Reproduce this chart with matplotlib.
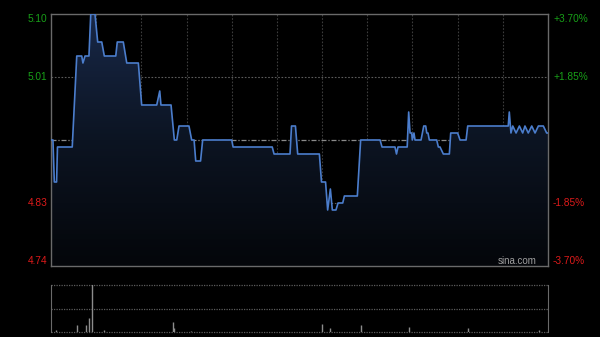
# intraday price chart (HK session, 330 trading minutes) with volume panel
import matplotlib
matplotlib.use('Agg')
import matplotlib.pyplot as plt
import matplotlib.transforms as mtransforms
import numpy as np
from matplotlib.colors import LinearSegmentedColormap
from matplotlib.patches import Polygon

plt.rcParams['font.family'] = ['Liberation Sans', 'DejaVu Sans']

prev_close = 4.92
price_ticks = [4.74, 4.83, 4.92, 5.01, 5.10]
price_labels = ['4.74', '4.83', '', '5.01', '5.10']
pct_labels = ['-3.70%', '-1.85%', '', '+1.85%', '+3.70%']

# turning points of the price line: minute of session, price
minutes = [0, 1.3, 2.2, 3.7, 4.3, 14.1, 17.1, 20.4, 21.2, 22.6, 25.2, 26.4, 29.2,
           31.0, 33.7, 35.4, 43.0, 44.0, 48.0, 50.3, 58.0, 60.2, 70.2, 72.2, 73.0,
           79.7, 81.9, 83.5, 85.0, 91.6, 93.4, 95.0, 96.1, 99.3, 100.7, 120.0,
           120.9, 146.9, 148.1, 158.7, 159.7, 162.3, 163.8, 178.2, 179.6, 182.3,
           183.7, 185.5, 186.8, 189.2, 190.6, 193.7, 194.8, 203.4, 205.6, 218.5,
           219.8, 228.4, 229.4, 230.4, 236.5, 237.5, 238.4, 239.5, 239.9, 241.0,
           241.7, 245.7, 247.5, 248.8, 249.5, 250.3, 251.2, 256.1, 257.2, 258.3,
           260.5, 264.5, 265.4, 270.0, 271.6, 275.6, 276.7, 303.6, 304.3, 305.4,
           306.6, 308.8, 311.0, 313.2, 314.7, 316.9, 319.2, 321.4, 323.6, 326.9,
           329.1, 330]
prices = [4.92, 4.92, 4.86, 4.86, 4.91, 4.91, 5.04, 5.04, 5.03, 5.04, 5.04, 5.10, 5.10,
          5.06, 5.06, 5.04, 5.04, 5.06, 5.06, 5.03, 5.03, 4.97, 4.97, 4.99, 4.97,
          4.97, 4.92, 4.92, 4.94, 4.94, 4.92, 4.92, 4.89, 4.89, 4.92, 4.92,
          4.91, 4.91, 4.90, 4.90, 4.94, 4.94, 4.90, 4.90, 4.86, 4.86,
          4.82, 4.85, 4.82, 4.82, 4.83, 4.83, 4.84, 4.84, 4.92, 4.92,
          4.91, 4.91, 4.90, 4.91, 4.91, 4.96, 4.93, 4.93, 4.92, 4.93,
          4.92, 4.92, 4.94, 4.94, 4.93, 4.93, 4.92, 4.92, 4.91, 4.91,
          4.90, 4.90, 4.93, 4.93, 4.92, 4.92, 4.94, 4.94, 4.96, 4.93,
          4.94, 4.93, 4.94, 4.93, 4.94, 4.93, 4.94, 4.93, 4.94, 4.94,
          4.93, 4.93]

# visible volume spikes: minute, volume (arbitrary units)
vol_minutes = [3, 17, 23, 25, 27, 35, 81, 82, 93, 180, 185, 206, 238, 277, 324]
vol_sizes = [0.24, 0.74, 0.67, 1.44, 4.8, 0.24, 1.0, 0.4, 0.15, 0.77, 0.4, 0.67, 0.5, 0.4, 0.24]

ymin, ymax = price_ticks[0], price_ticks[-1]

fig = plt.figure(figsize=(6, 3.37), dpi=100, facecolor='black')
ax = fig.add_axes([51 / 600, 71 / 337, 497 / 600, 252 / 337])
ax.set_facecolor('black')
ax.set_xlim(0, 330)
ax.set_ylim(ymin, ymax)
ax.set_xticks([])
ax.set_yticks([])
for s in ax.spines.values():
    s.set_color('#6a6a6a')
    s.set_linewidth(1)

# grid
for m in range(30, 330, 30):
    ax.axvline(m, color='#3c3c3c', lw=0.8, ls=(0, (1.5, 1.5)), zorder=1)
for p in [4.83, 5.01]:
    ax.axhline(p, color='#5c5c5c', lw=0.8, ls=(0, (1.5, 1.5)), zorder=1)
ax.axhline(prev_close, color='#8a8a8a', lw=0.9, ls=(0, (4, 1.5, 1, 1.5)), zorder=1)

# gradient fill under the line
cmap = LinearSegmentedColormap.from_list('f', ['#04060a', '#0c1422', '#182848'])
grad = np.linspace(0, 1, 256).reshape(-1, 1)
img = ax.imshow(grad, extent=[0, 330, ymin, ymax], origin='lower', aspect='auto',
                cmap=cmap, zorder=2)
poly = Polygon(list(zip(minutes, prices)) + [(minutes[-1], ymin), (minutes[0], ymin)],
               closed=True, facecolor='none', edgecolor='none')
ax.add_patch(poly)
img.set_clip_path(poly)
ax.plot(minutes, prices, color='#4b7dcc', lw=1.2, zorder=4)

# price / percent labels
trans = mtransforms.blended_transform_factory(ax.transAxes, ax.transData)
for p, lab, pct in zip(price_ticks, price_labels, pct_labels):
    if not lab:
        continue
    col = '#18a018' if p > prev_close else '#dd1a1a'
    va = 'top' if p == ymax else ('bottom' if p == ymin else 'center')
    ax.text(-0.007, p, lab, transform=trans, ha='right', va=va, color=col, fontsize=7.3)
    ax.text(1.01, p, pct, transform=trans, ha='left', va=va, color=col, fontsize=7.3)
ax.text(0.978, ymin, 'sina.com', transform=trans, ha='right', va='bottom',
        color='#a0a0a0', fontsize=7)

# volume panel
vax = fig.add_axes([51 / 600, 5 / 337, 497 / 600, 47 / 337])
vax.set_facecolor('black')
vax.set_xlim(0, 330)
vax.set_ylim(0, 4.7)
vax.set_xticks([])
vax.set_yticks([])
vax.spines['top'].set_visible(False)
vax.spines['bottom'].set_visible(False)
for k in ['left', 'right']:
    vax.spines[k].set_color('#6a6a6a')
for v in [4.7, 2.35, 0.03]:
    vax.axhline(v, color='#5c5c5c', lw=0.9, ls=(0, (1, 1)), clip_on=False)
vax.vlines(vol_minutes, 0, vol_sizes, color='#8c8c8c', lw=1.0)

fig.savefig('out.png', dpi=100, facecolor='black')
